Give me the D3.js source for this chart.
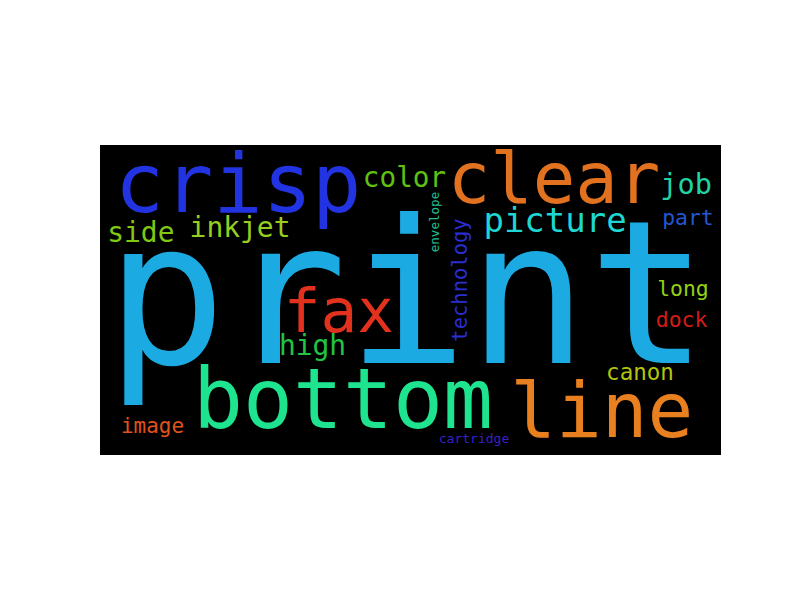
<!DOCTYPE html>
<html>
<head>
<meta charset="utf-8">
<script src="https://cdn.jsdelivr.net/npm/d3@7"></script>
<style>
  body { margin: 0; background: #fff; }
  svg text { font-family: "DejaVu Sans Mono", "Liberation Mono", monospace; }
</style>
</head>
<body>
<div id="chart"></div>
<script>
// word cloud canvas is 400 x 200 units, shown at 621 x 310 px
const words = ["print", "crisp", "clear", "bottom", "line", "fax", "picture", "color", "job", "side",
               "inkjet", "high", "part", "canon", "long", "dock", "image", "technology", "envelope", "cartridge"]
const sizes = [129.0, 52.8, 45.5, 53.5, 49.0, 39.3, 21.9, 17.8, 18.4, 18.0,
               18.0, 18.0, 13.8, 14.5, 13.8, 13.8, 13.5, 13.2, 8.1, 8.4]
// ink centre (x) and baseline (y) of each word, in cloud units
const posX = [197.9, 88.9, 292.4, 156.6, 323.2, 153.9, 293.1, 196.1, 377.5, 26.3,
              90.2, 136.9, 378.7, 347.8, 375.5, 374.6, 33.8, 236.6, 218.4, 240.9]
const posY = [140.8, 43.0, 37.6, 182.8, 188.2, 120.5, 55.9, 27.1, 31.9, 62.4,
              59.2, 135.5, 51.9, 151.6, 97.4, 117.7, 186.0, 87.1, 49.7, 192.5]
const rotations = [0, 0, 0, 0, 0, 0, 0, 0, 0, 0, 0, 0, 0, 0, 0, 0, 0, -90, -90, 0]
const colors = ["#1caae2", "#2233e2", "#e27220", "#1ee38f", "#e8801f", "#e2321e", "#1fd7d2", "#5fc212", "#1fd3a2", "#80c812",
                "#96cf1e", "#22c543", "#2456d2", "#b3c50f", "#93d112", "#d21c17", "#e2521c", "#2a2dd2", "#1fc292", "#3520c8"]

const width = 800, height = 600

const svg = d3.select("#chart")
              .append("svg")
              .attr("width", width)
              .attr("height", height)

const x = d3.scaleLinear().domain([0, 400]).range([100, 721])
const y = d3.scaleLinear().domain([0, 200]).range([145, 455])
const k = (x(400) - x(0)) / 400

// fond noir du nuage
svg.append("rect")
   .attr("x", x(0))
   .attr("y", y(0))
   .attr("width", x(400) - x(0))
   .attr("height", y(200) - y(0))
   .attr("fill", "#000")

const data = words.map((w, i) => ({text: w, size: sizes[i], x: posX[i], y: posY[i], rotate: rotations[i], color: colors[i]}))

svg.append("g")
   .selectAll("text")
   .data(data)
   .join("text")
   .attr("text-anchor", "middle")
   .attr("transform", d => `translate(${x(d.x)}, ${y(d.y)}) rotate(${d.rotate})`)
   .attr("font-size", d => (d.size * k) + "px")
   .attr("fill", d => d.color)
   .text(d => d.text)
</script>
</body>
</html>
